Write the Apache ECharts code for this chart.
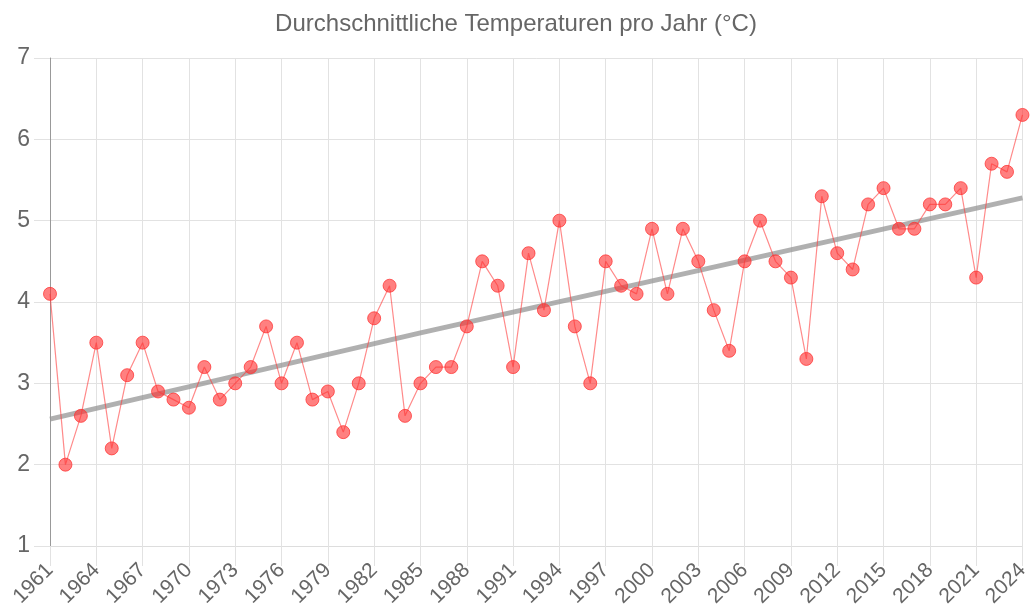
<!DOCTYPE html>
<html>
<head>
<meta charset="utf-8">
<script src="https://cdn.jsdelivr.net/npm/echarts@6/dist/echarts.min.js"></script>
<style>
  html, body { margin: 0; padding: 0; background: #fff; }
  #chart { width: 1032px; height: 616px; }
</style>
</head>
<body>
<div id="chart"></div>
<script>
// Jahre 1961-2024
const years = [];
for (let y = 1961; y <= 2024; y++) years.push(String(y));

// Durchschnittstemperatur pro Jahr (°C)
const temps = [
  4.1, 2.0, 2.6, 3.5, 2.2, 3.1, 3.5, 2.9, 2.8, 2.7,
  3.2, 2.8, 3.0, 3.2, 3.7, 3.0, 3.5, 2.8, 2.9, 2.4,
  3.0, 3.8, 4.2, 2.6, 3.0, 3.2, 3.2, 3.7, 4.5, 4.2,
  3.2, 4.6, 3.9, 5.0, 3.7, 3.0, 4.5, 4.2, 4.1, 4.9,
  4.1, 4.9, 4.5, 3.9, 3.4, 4.5, 5.0, 4.5, 4.3, 3.3,
  5.3, 4.6, 4.4, 5.2, 5.4, 4.9, 4.9, 5.2, 5.2, 5.4,
  4.3, 5.7, 5.6, 6.3
];

// Trendlinie: Stützpunkte aus dem Bild
const trendYears = ['1961', '1985', '2024'];
const trendValues = [2.56, 3.62, 5.28];

const yTicks = [1, 7];

const chart = echarts.init(document.getElementById('chart'));

const option = {
  animation: false,
  textStyle: { fontFamily: 'Liberation Sans, Arial, sans-serif' },
  title: {
    text: 'Durchschnittliche Temperaturen pro Jahr (°C)',
    left: 'center',
    top: 7,
    textStyle: { fontSize: 24, fontWeight: 'normal', color: '#666' }
  },
  grid: { left: 50, right: 7, top: 58, bottom: 70 },
  xAxis: {
    type: 'category',
    data: years,
    boundaryGap: false,
    axisLine: { lineStyle: { color: '#ddd' } },
    axisTick: { show: true, length: 20, interval: 2, lineStyle: { color: '#e2e2e2' } },
    axisLabel: { interval: 2, rotate: 45, margin: 21, fontSize: 21, color: '#666' },
    splitLine: { show: true, interval: 2, lineStyle: { color: '#e2e2e2' } }
  },
  yAxis: {
    type: 'value',
    min: yTicks[0],
    max: yTicks[1],
    interval: 1,
    axisLine: { show: true, lineStyle: { color: '#999' } },
    axisTick: { show: true, length: 16, lineStyle: { color: '#e2e2e2' } },
    axisLabel: { fontSize: 23, color: '#666', margin: 20 },
    splitLine: { lineStyle: { color: '#e2e2e2' } }
  },
  series: [
    {
      name: 'Trend',
      type: 'line',
      data: trendYears.map((y, i) => [y, trendValues[i]]),
      symbol: 'none',
      lineStyle: { color: 'rgba(150,150,150,0.75)', width: 5 },
      z: 2
    },
    {
      name: 'Temperatur',
      type: 'line',
      data: temps,
      symbol: 'circle',
      symbolSize: 13,
      showAllSymbol: true,
      itemStyle: { color: 'rgba(255,50,50,0.62)', borderColor: 'rgba(255,50,50,0.75)', borderWidth: 1 },
      lineStyle: { color: 'rgba(255,60,60,0.6)', width: 1.2 },
      z: 3
    }
  ]
};

chart.setOption(option);
</script>
</body>
</html>
